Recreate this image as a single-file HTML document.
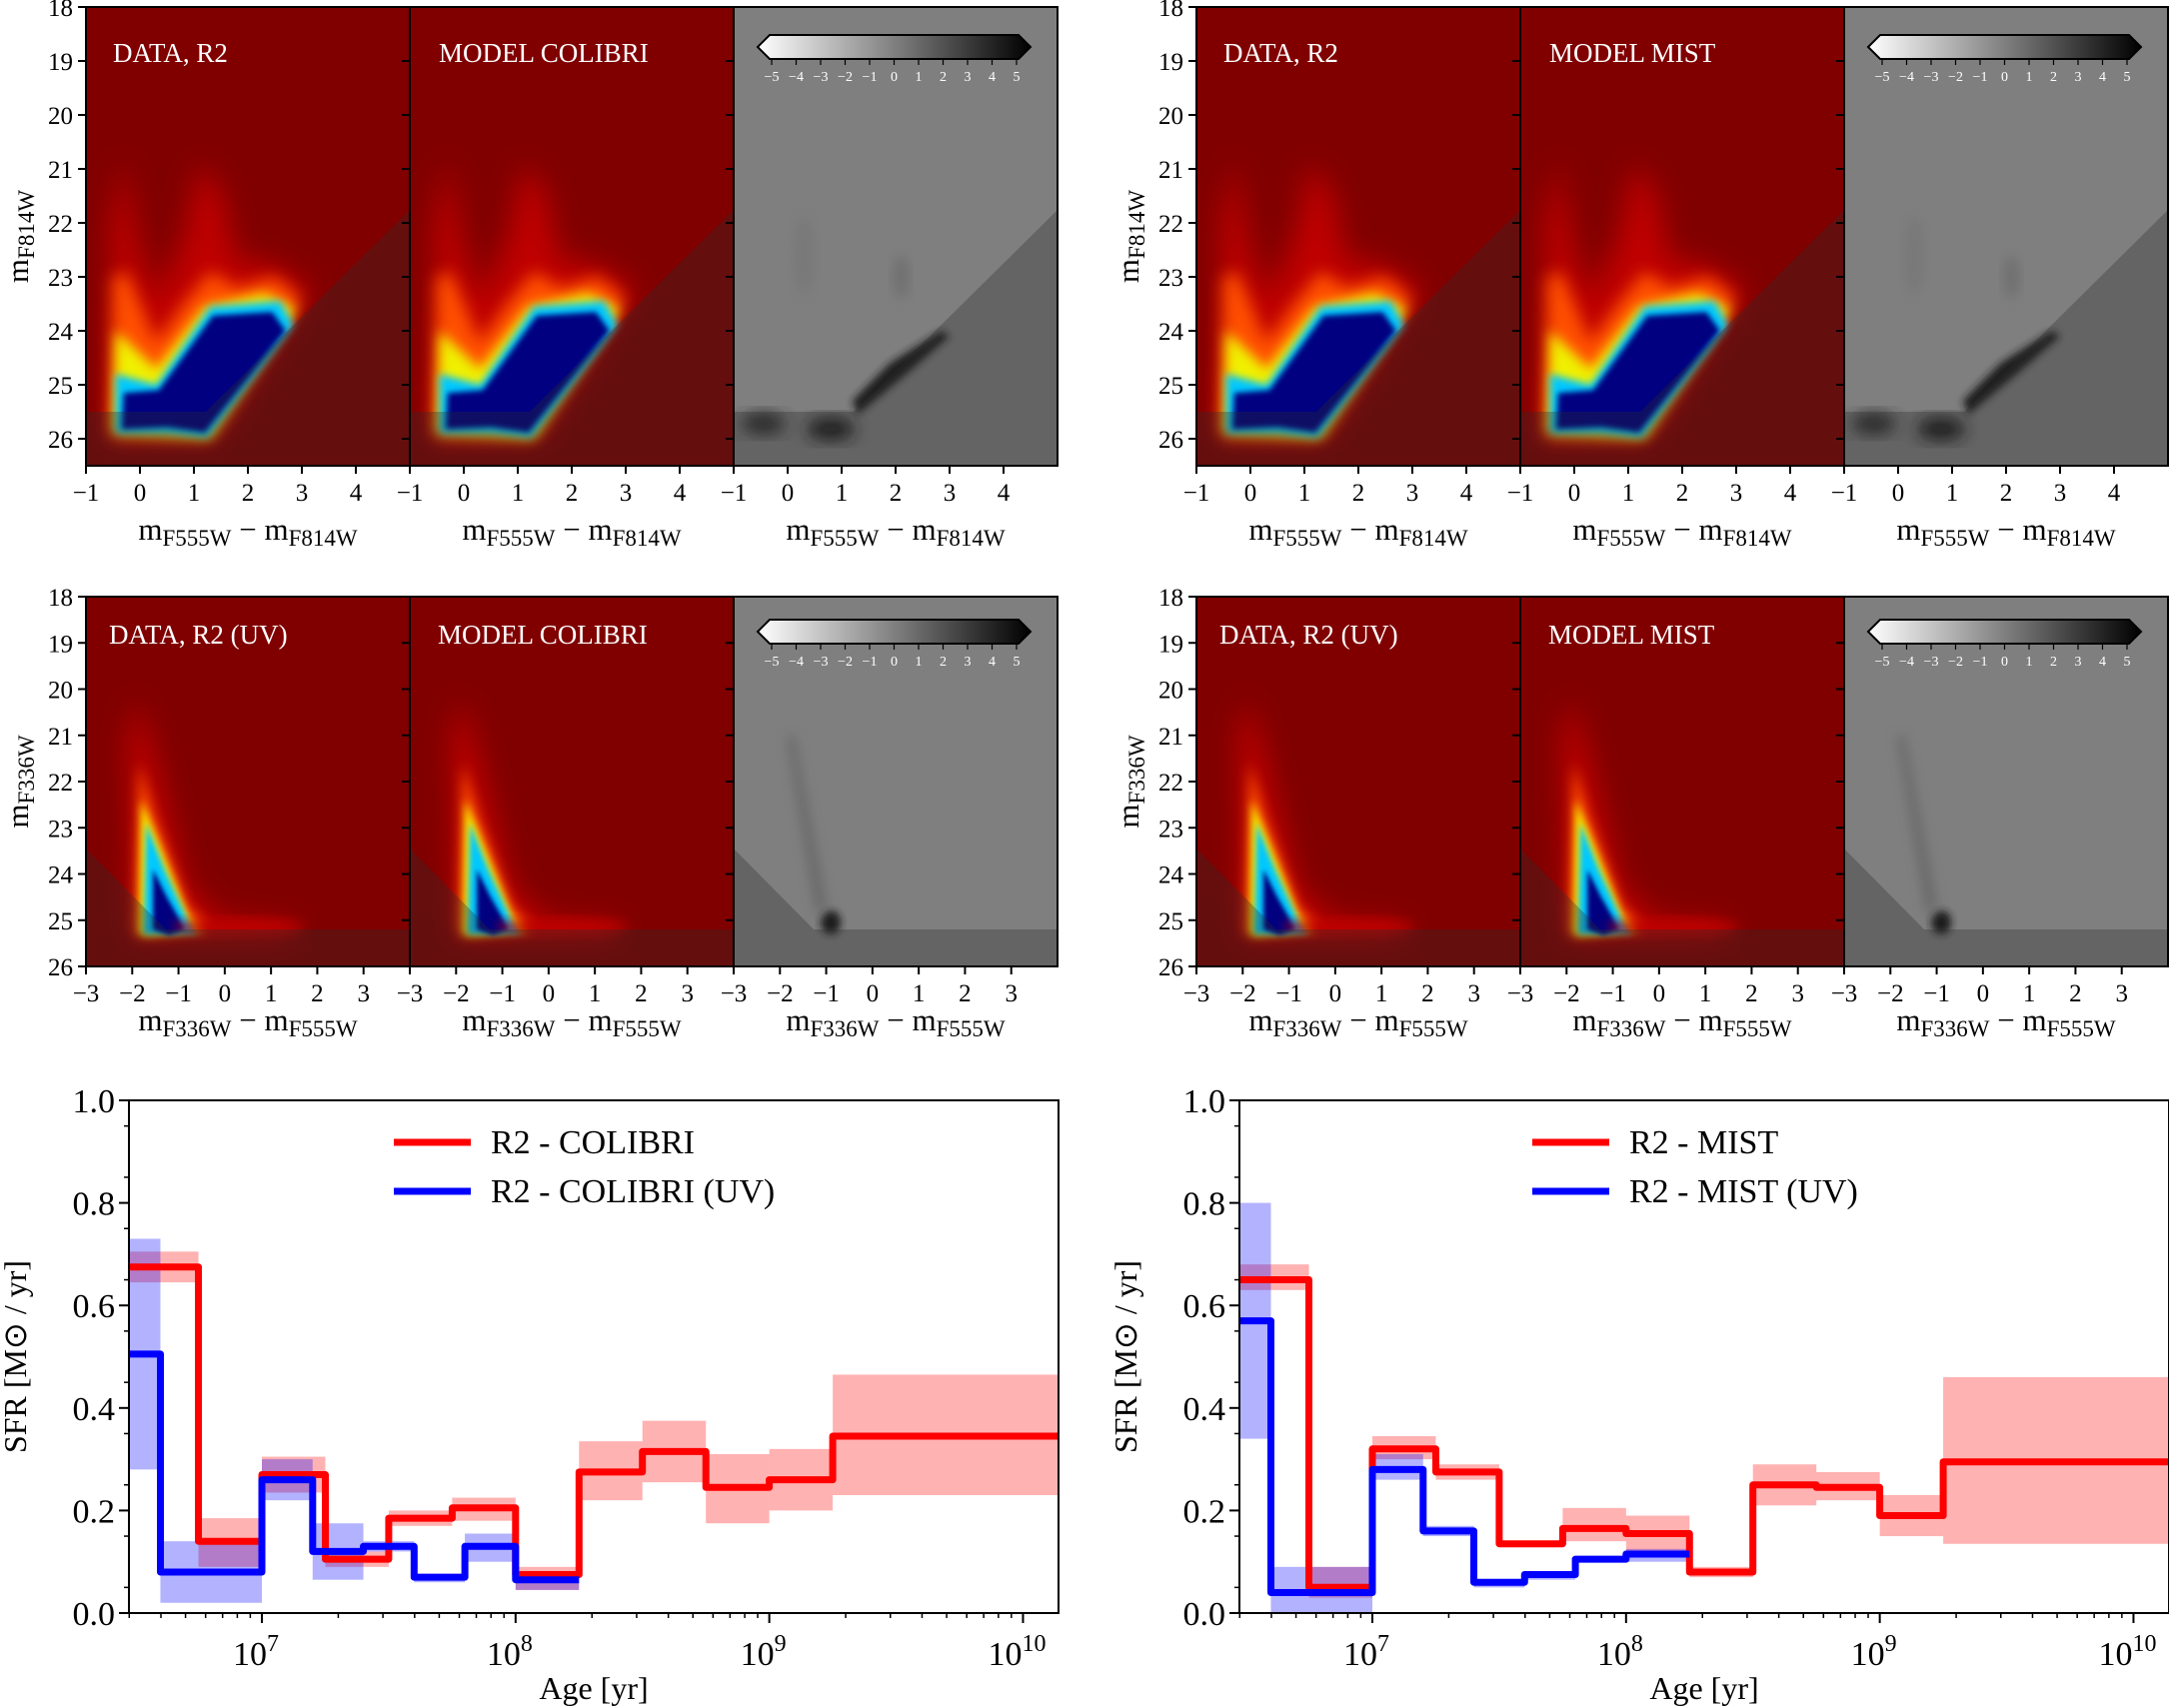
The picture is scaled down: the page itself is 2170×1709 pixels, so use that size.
<!DOCTYPE html>
<html><head><meta charset="utf-8"><style>
html,body{margin:0;padding:0;background:#fff;}
svg{display:block;font-family:"Liberation Serif",serif;}
</style></head><body>
<svg id="fig" width="2170" height="1709" viewBox="0 0 2170 1709" xmlns="http://www.w3.org/2000/svg">
<defs>
<filter id="b14" x="-30%" y="-30%" width="160%" height="160%"><feGaussianBlur stdDeviation="14"/></filter>
<filter id="b10" x="-30%" y="-30%" width="160%" height="160%"><feGaussianBlur stdDeviation="10"/></filter>
<filter id="b8" x="-30%" y="-30%" width="160%" height="160%"><feGaussianBlur stdDeviation="8"/></filter>
<filter id="b6" x="-30%" y="-30%" width="160%" height="160%"><feGaussianBlur stdDeviation="6"/></filter>
<filter id="b4" x="-30%" y="-30%" width="160%" height="160%"><feGaussianBlur stdDeviation="4"/></filter>
<filter id="b3" x="-30%" y="-30%" width="160%" height="160%"><feGaussianBlur stdDeviation="3"/></filter>
<filter id="b2" x="-30%" y="-30%" width="160%" height="160%"><feGaussianBlur stdDeviation="2.5"/></filter>
<linearGradient id="cbg" x1="0" x2="1" y1="0" y2="0"><stop offset="0" stop-color="#fff"/><stop offset="1" stop-color="#000"/></linearGradient>
</defs>
</svg>
<script>
// ===== SFR data (log10 age bin edges) =====
const colEdgesRed = [6.476,6.75,7.0,7.25,7.5,7.75,8.0,8.25,8.5,8.75,9.0,9.25,10.14];
const colRed      = [0.675,0.14,0.27,0.105,0.185,0.205,0.075,0.275,0.315,0.245,0.26,0.345];
const colRedLo    = [0.645,0.09,0.235,0.09,0.17,0.18,0.045,0.22,0.255,0.175,0.2,0.23];
const colRedHi    = [0.705,0.185,0.305,0.12,0.2,0.225,0.09,0.335,0.375,0.31,0.32,0.465];
const colEdgesBlue= [6.476,6.6,7.0,7.2,7.4,7.6,7.8,8.0,8.25];
const colBlue     = [0.505,0.08,0.26,0.12,0.13,0.07,0.13,0.065];
const colBlueLo   = [0.28,0.02,0.22,0.065,0.12,0.06,0.1,0.045];
const colBlueHi   = [0.73,0.14,0.3,0.175,0.14,0.075,0.155,0.08];

const mistEdgesRed = [6.476,6.75,7.0,7.25,7.5,7.75,8.0,8.25,8.5,8.75,9.0,9.25,10.14];
const mistRed      = [0.65,0.05,0.32,0.275,0.135,0.165,0.155,0.08,0.25,0.245,0.19,0.295];
const mistRedLo    = [0.63,0.03,0.3,0.26,0.13,0.14,0.12,0.07,0.21,0.22,0.15,0.135];
const mistRedHi    = [0.68,0.09,0.345,0.29,0.14,0.205,0.19,0.09,0.29,0.275,0.23,0.46];
const mistEdgesBlue= [6.476,6.6,7.0,7.2,7.4,7.6,7.8,8.0,8.25];
const mistBlue     = [0.57,0.04,0.28,0.16,0.06,0.075,0.105,0.115];
const mistBlueLo   = [0.34,0.0,0.26,0.15,0.05,0.065,0.1,0.1];
const mistBlueHi   = [0.8,0.09,0.31,0.17,0.065,0.08,0.11,0.125];

const sfrYTicks = [0.0,0.2,0.4,0.6,0.8,1.0];
const sfrXDecades = [7,8,9,10];

// ===== CMD tick labels =====
const optXTicks = [-1,0,1,2,3,4];
const optYTicks = [18,19,20,21,22,23,24,25,26];
const uvXTicks = [-3,-2,-1,0,1,2,3];
const uvYTicks = [18,19,20,21,22,23,24,25,26];
const cbTicks = [-5,-4,-3,-2,-1,0,1,2,3,4,5];

const NS="http://www.w3.org/2000/svg";
const svg=document.getElementById('fig');
function el(tag,attrs,parent){const e=document.createElementNS(NS,tag);for(const k in attrs)e.setAttribute(k,attrs[k]);(parent||svg).appendChild(e);return e;}
function fmtNum(v){return v<0?'\u2212'+(-v):''+v;}

const optLayers=[
 ['#d00000','b14',0.8,[[-0.6,25.9],[-0.55,22],[-0.3,20.8],[0,22.5],[0.3,23.4],[0.8,22.3],[1.1,20.9],[1.5,21.4],[1.8,22.7],[2.3,22.7],[3.2,23.2],[1.4,26],[-0.5,26]]],
 ['#ff5000','b8',1,[[-0.55,25.9],[-0.5,23.0],[-0.25,22.9],[0.3,24.2],[0.8,23.5],[1.3,22.9],[1.8,23.2],[2.5,23.0],[3.0,23.4],[1.3,26],[-0.5,26]]],
 ['#f0f000','b6',1,[[-0.5,25.9],[-0.45,24.0],[0.3,24.7],[1.2,23.55],[2.3,23.3],[2.9,23.6],[1.3,26]]],
 ['#00c8ff','b4',1,[[-0.45,25.9],[-0.45,24.8],[0.3,25.0],[1.3,23.55],[2.6,23.45],[2.85,23.9],[1.25,25.98],[0.5,25.9]]],
 ['#000080','b3',1,[[-0.33,25.82],[-0.3,25.15],[0.35,25.1],[1.35,23.72],[2.45,23.65],[2.7,24.0],[1.2,25.88],[0.5,25.78]]]
];
const uvLayers=[
 ['#d00000','b14',0.8,[[-2.0,25.3],[-2.1,21.0],[-1.9,20.2],[-1.5,21.5],[-0.8,24.3],[0,25.0],[1.5,25.1],[1.5,25.4],[-2,25.4]]],
 ['#ff5000','b6',1,[[-1.95,25.3],[-1.85,21.6],[-1.5,22.8],[-0.8,24.7],[-0.3,25.2],[-1.8,25.35]]],
 ['#f0f000','b4',1,[[-1.85,25.3],[-1.8,22.4],[-1.4,23.4],[-0.8,24.9],[-0.45,25.25],[-1.7,25.35]]],
 ['#00c8ff','b3',1,[[-1.75,25.3],[-1.7,22.9],[-1.3,23.9],[-0.8,25.0],[-0.6,25.3]]],
 ['#000080','b2',1,[[-1.55,25.2],[-1.55,23.9],[-1.25,24.5],[-0.85,25.2],[-1.2,25.33]]]
];

function panel(px,py,w,h,cmin,cmax,mmin,mmax,kind,uv,title,idx){
  const sx=c=>px+(c-cmin)/(cmax-cmin)*w, sy=m=>py+(m-mmin)/(mmax-mmin)*h;
  const cid='clip'+idx;
  const cp=el('clipPath',{id:cid}); el('rect',{x:px,y:py,width:w,height:h},cp);
  const g=el('g',{'clip-path':'url(#'+cid+')'});
  
  
  el('rect',{x:px,y:py,width:w,height:h,fill:kind==='res'?'#7f7f7f':'#800000'},g);
  const pts=a=>a.map(p=>sx(p[0]).toFixed(1)+','+sy(p[1]).toFixed(1)).join(' ');
  if(kind==='heat'){
    (uv?uvLayers:optLayers).forEach(L=>{el('polygon',{points:pts(L[3]),fill:L[0],'fill-opacity':L[2],filter:'url(#'+L[1]+')'},g);});
    if(uv) el('ellipse',{cx:sx(0.3),cy:sy(25.15),rx:w*0.2,ry:8,fill:'#c00000',filter:'url(#b6)'},g);
  } else {
    if(!uv){
      el('polygon',{points:pts([[1.3,25.55],[2.2,24.8],[3.0,24.1],[2.85,24.0],[1.9,24.6],[1.2,25.3]]),fill:'#1a1a1a',filter:'url(#b4)'},g);
      el('ellipse',{cx:sx(-0.45),cy:sy(25.72),rx:22,ry:11,fill:'#2a2a2a',filter:'url(#b8)'},g);
      el('ellipse',{cx:sx(0.8),cy:sy(25.82),rx:24,ry:12,fill:'#1a1a1a',filter:'url(#b8)'},g);
      el('ellipse',{cx:sx(2.1),cy:sy(23.0),rx:8,ry:22,fill:'#707070',filter:'url(#b6)'},g);
      el('ellipse',{cx:sx(0.3),cy:sy(22.6),rx:10,ry:40,fill:'#787878',filter:'url(#b6)'},g);
    } else {
      el('ellipse',{cx:sx(-0.9),cy:sy(25.05),rx:10,ry:12,fill:'#1a1a1a',filter:'url(#b4)'},g);
      el('polygon',{points:pts([[-1.85,21.0],[-1.7,21.0],[-1.0,24.7],[-1.2,24.9]]),fill:'#666',filter:'url(#b6)'},g);
    }
  }
  const mpts = uv ? [[cmin,23.45],[-1.27,25.2],[cmax,25.2],[cmax,mmax],[cmin,mmax]]
                  : [[cmin,25.5],[1.22,25.5],[cmax,21.76],[cmax,mmax],[cmin,mmax]];
  const mk=el('polygon',{points:pts(mpts),fill:'#2a2a2a','fill-opacity':0.32},g);
  
  
  el('rect',{x:px,y:py,width:w,height:h,fill:'none',stroke:'#000','stroke-width':2});
  if(title){
    const t=el('text',{x:px+(idx%3===0?(uv?23:27):(uv?28:29)),y:py+(uv?47:55),fill:'#fff','font-size':27});
    t.textContent=title;
    
    
  }
  if(kind==='res'){
    const cy0=py+(uv?23:28), ch=24, x1=px+24, x2=px+297;
    const cb=el('g',{});
    
    
    el('polygon',{points:`${x1+12},${cy0} ${x2-12},${cy0} ${x2},${cy0+ch/2} ${x2-12},${cy0+ch} ${x1+12},${cy0+ch} ${x1},${cy0+ch/2}`,fill:'url(#cbg)',stroke:'#000','stroke-width':2},cb);
    cbTicks.forEach((v,i)=>{
      const tx=x1+14+(v+5)/10*(x2-x1-28);
      el('line',{x1:tx,x2:tx,y1:cy0+ch,y2:cy0+ch+6,stroke:'#000','stroke-width':1.2},cb);
      const t=el('text',{x:tx,y:cy0+ch+22,'font-size':14,'text-anchor':'middle',fill:'#fff'},cb);
      t.textContent=fmtNum(v);
    });
  }
  (uv?uvXTicks:optXTicks).forEach(v=>{
    const x=sx(v);
    el('line',{x1:x,x2:x,y1:py+h,y2:py+h+8,stroke:'#000','stroke-width':2});
    const t=el('text',{x:x,y:py+h+35,'font-size':25,'text-anchor':'middle'});t.textContent=fmtNum(v);
    
    
  });
  (uv?uvYTicks:optYTicks).forEach(v=>{
    const y=sy(v);
    el('line',{x1:px-8,x2:px,y1:y,y2:y,stroke:'#000','stroke-width':2});
    if(idx%3===0){const t=el('text',{x:px-13,y:y+9,'font-size':25,'text-anchor':'end'});t.textContent=v;
    
    }
  });
  const xl=el('text',{x:px+w/2,y:py+h+(uv?64:74),'font-size':31,'text-anchor':'middle'});
  xl.innerHTML= uv? 'm<tspan font-size="23" dy="6">F336W</tspan><tspan dy="-6"> \u2212 m</tspan><tspan font-size="23" dy="6">F555W</tspan>'
                  : 'm<tspan font-size="23" dy="6">F555W</tspan><tspan dy="-6"> \u2212 m</tspan><tspan font-size="23" dy="6">F814W</tspan>';
  
  
  if(idx%3===0){
    const yl=el('text',{x:0,y:0,'font-size':31,'text-anchor':'middle',transform:`translate(${px-58},${py+h/2}) rotate(-90)`});
    yl.innerHTML= uv? 'm<tspan font-size="23" dy="6">F336W</tspan>' : 'm<tspan font-size="23" dy="6">F814W</tspan>';
    
    
  }
}

[[0,'COLIBRI'],[1111,'MIST']].forEach((b,bi)=>{
  const ox=86+b[0];
  panel(ox,7,324,459,-1,5,18,26.5,'heat',false,'DATA, R2',bi*6+0);
  panel(ox+324,7,324,459,-1,5,18,26.5,'heat',false,'MODEL '+b[1],bi*6+1);
  panel(ox+648,7,324,459,-1,5,18,26.5,'res',false,null,bi*6+2);
  panel(ox,597,324,370,-3,4,18,26,'heat',true,'DATA, R2 (UV)',bi*6+3);
  panel(ox+324,597,324,370,-3,4,18,26,'heat',true,'MODEL '+b[1],bi*6+4);
  panel(ox+648,597,324,370,-3,4,18,26,'res',true,null,bi*6+5);
});

function sfr(px,name,eR,vR,loR,hiR,eB,vB,loB,hiB,legOff){
  const py=1101,w=930,h=513,lmin=6.476,lmax=10.14;
  const sx=l=>px+(l-lmin)/(lmax-lmin)*w, sy=v=>py+h-v*h;
  const g=el('g',{});
  
  
  const cid='sclip'+name; const cp=el('clipPath',{id:cid}); el('rect',{x:px,y:py,width:w,height:h},cp);
  const pg=el('g',{'clip-path':'url(#'+cid+')'},g);
  function bands(e,lo,hi,col,nm){
    lo.forEach((v,i)=>{const r=el('rect',{x:sx(e[i]),y:sy(hi[i]),width:sx(e[i+1])-sx(e[i]),height:sy(v)-sy(hi[i]),fill:col,'fill-opacity':0.3},pg);
      
      });
  }
  function step(e,v,col,nm){
    let d='';v.forEach((y,i)=>{d+=(i?'L':'M')+sx(e[i]).toFixed(1)+','+sy(y).toFixed(1)+'L'+sx(e[i+1]).toFixed(1)+','+sy(y).toFixed(1);});
    const p=el('path',{d:d,fill:'none',stroke:col,'stroke-width':7,'stroke-linejoin':'round'},pg);
    
    
  }
  bands(eR,loR,hiR,'#ff0000','red');
  bands(eB,loB,hiB,'#0000ff','blue');
  step(eR,vR,'#ff0000','red');
  step(eB,vB,'#0000ff','blue');
  el('rect',{x:px,y:py,width:w,height:h,fill:'none',stroke:'#000','stroke-width':2},g);
  sfrYTicks.forEach(v=>{const y=sy(v);el('line',{x1:px-10,x2:px,y1:y,y2:y,stroke:'#000','stroke-width':2},g);
    const t=el('text',{x:px-14,y:y+12,'font-size':34,'text-anchor':'end'},g);t.textContent=v.toFixed(1);
    
    });
  for(let v=0.05;v<1;v+=0.1){const y=sy(v);el('line',{x1:px-5,x2:px,y1:y,y2:y,stroke:'#000','stroke-width':1.5},g);}
  for(let d=6;d<=10;d++){for(let k=1;k<10;k++){const l=d+Math.log10(k);if(l<lmin||l>lmax)continue;const x=sx(l);
    el('line',{x1:x,x2:x,y1:py+h,y2:py+h+(k===1?10:5),stroke:'#000','stroke-width':k===1?2:1.5},g);}}
  sfrXDecades.forEach(d=>{const x=sx(d);const t=el('text',{x:x-6,y:py+h+52,'font-size':34,'text-anchor':'middle'},g);
    t.innerHTML='10<tspan font-size="24" dy="-14">'+d+'</tspan>';
    
    });
  const xl=el('text',{x:px+w/2,y:1700,'font-size':32,'text-anchor':'middle'},g);xl.textContent='Age [yr]';
  
  
  const yl=el('text',{x:0,y:0,'font-size':32,'text-anchor':'middle',transform:`translate(${px-103},${py+h/2}) rotate(-90)`},g);
  yl.textContent='SFR [M\u2299 / yr]';
  
  
  const lx=px+265+legOff;
  [['#ff0000','R2 - '+name,1143],['#0000ff','R2 - '+name+' (UV)',1192]].forEach(L=>{
    const lg=el('g',{},g);
    
    
    el('line',{x1:lx,x2:lx+77,y1:L[2],y2:L[2],stroke:L[0],'stroke-width':7},lg);
    const t=el('text',{x:lx+97,y:L[2]+11,'font-size':34},lg);t.textContent=L[1];
  });
}
sfr(129,'COLIBRI',colEdgesRed,colRed,colRedLo,colRedHi,colEdgesBlue,colBlue,colBlueLo,colBlueHi,0);
sfr(1240,'MIST',mistEdgesRed,mistRed,mistRedLo,mistRedHi,mistEdgesBlue,mistBlue,mistBlueLo,mistBlueHi,28);
</script>
</body></html>
